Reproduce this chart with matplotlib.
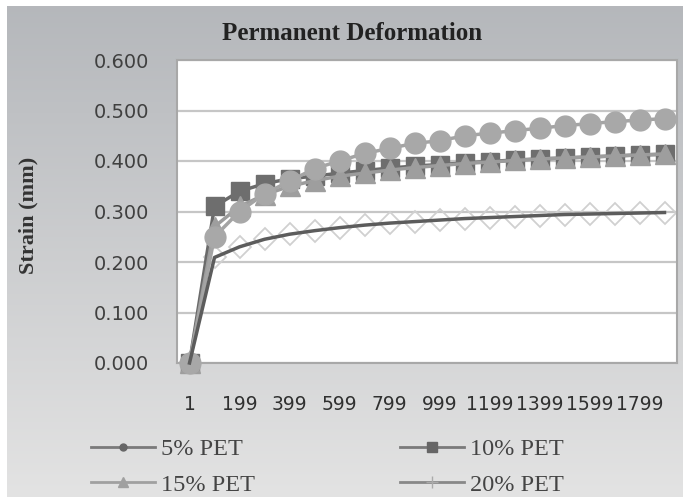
import matplotlib
matplotlib.use("Agg")
import matplotlib.pyplot as plt
from matplotlib.lines import Line2D
import numpy as np

# cycles (category axis)
cycles = [1, 99, 199, 299, 399, 499, 599, 699, 799, 899, 999,
          1099, 1199, 1299, 1399, 1499, 1599, 1699, 1799, 1899]

pet5 = [0.000, 0.250, 0.300, 0.335, 0.360, 0.385, 0.400, 0.415, 0.425, 0.435,
        0.440, 0.450, 0.455, 0.460, 0.465, 0.470, 0.474, 0.478, 0.481, 0.484]
pet10 = [0.000, 0.310, 0.340, 0.355, 0.365, 0.370, 0.376, 0.381, 0.386, 0.390,
         0.393, 0.396, 0.399, 0.402, 0.404, 0.406, 0.408, 0.410, 0.412, 0.413]
pet15 = [0.000, 0.270, 0.310, 0.333, 0.350, 0.361, 0.370, 0.376, 0.382, 0.387,
         0.391, 0.395, 0.398, 0.401, 0.404, 0.406, 0.408, 0.410, 0.412, 0.414]
pet20 = [0.000, 0.209, 0.230, 0.245, 0.255, 0.262, 0.268, 0.273, 0.277, 0.280,
         0.283, 0.286, 0.288, 0.290, 0.292, 0.294, 0.295, 0.296, 0.297, 0.298]

labels = ['5% PET', '10% PET', '15% PET', '20% PET']

W, H = 683, 497
fig = plt.figure(figsize=(W / 100, H / 100), dpi=100)
fig.patch.set_facecolor('white')

# grey gradient chart background
bg = fig.add_axes([7 / W, 0, 1 - 7 / W, 1 - 6 / H])
grad = np.linspace(0, 1, 256).reshape(-1, 1)
top = np.array([0.71, 0.72, 0.735])
bot = np.array([0.89, 0.89, 0.89])
img = top + (bot - top) * grad[..., None]
bg.imshow(img, aspect='auto', extent=[0, 1, 0, 1])
bg.axis('off')

ax = fig.add_axes([177 / W, 1 - 363 / H, 500 / W, 303 / H])
ax.set_facecolor('white')
x = np.arange(len(cycles))

ax.plot(x, pet20, ls='none', marker='D', ms=11, mfc='none', mec='#d0d0d0',
        mew=1.3, zorder=2, clip_on=False)
ax.plot(x, pet10, color='#6a6a6a', lw=2.5, marker='s', ms=13,
        mfc='#6e6e6e', mec='#6e6e6e', zorder=3, clip_on=False)
ax.plot(x, pet15, color='#9c9c9c', lw=2.5, marker='^', ms=15,
        mfc='#9e9e9e', mec='#9e9e9e', zorder=4, clip_on=False)
ax.plot(x, pet5, color='#a4a4a4', lw=2.5, marker='o', ms=15,
        mfc='#a8a8a8', mec='#a8a8a8', zorder=5, clip_on=False)
ax.plot(x, pet20, color='#5c5c5c', lw=2.5, zorder=6, clip_on=False)

ax.set_xlim(-0.5, len(cycles) - 0.5)
ax.set_ylim(0, 0.6)
ax.set_yticks(np.arange(0, 0.61, 0.1))
ax.set_yticklabels(['%.3f' % v for v in np.arange(0, 0.61, 0.1)])
ax.set_xticks(x[::2])
ax.set_xticklabels([str(c) for c in cycles[::2]])
ax.tick_params(axis='y', length=0, pad=20, labelsize=14, labelcolor='#404040')
ax.tick_params(axis='x', length=0, pad=23, labelsize=13.5, labelcolor='#303030')
ax.grid(axis='y', color='#c6c6c6', lw=1.6)
ax.set_axisbelow(True)
for s in ax.spines.values():
    s.set_color('#a8a8a8')
    s.set_linewidth(1.5)

fig.text(0.515, 1 - 33 / H, 'Permanent Deformation', ha='center', va='center',
         family='Liberation Serif', fontweight='bold', fontsize=18, color='#222222')
fig.text(28 / W, 1 - 215 / H, 'Strain (mm)', ha='center', va='center', rotation=90,
         family='Liberation Serif', fontweight='bold', fontsize=16, color='#333333')

h5 = Line2D([], [], color='#7a7a7a', lw=2, marker='o', ms=5, mfc='#666666', mec='#666666')
h10 = Line2D([], [], color='#7a7a7a', lw=2, marker='s', ms=7, mfc='#666666', mec='#666666')
h15 = Line2D([], [], color='#a0a0a0', lw=2, marker='^', ms=7, mfc='#a0a0a0', mec='#a0a0a0')
h20 = Line2D([], [], color='#888888', lw=2, marker='+', ms=8, mec='#aaaaaa')
# legend fills by column, so order gives rows 5%/10% and 15%/20%
fig.legend([h5, h15, h10, h20], [labels[0], labels[2], labels[1], labels[3]],
           loc='center', ncol=2, frameon=False,
           bbox_to_anchor=(327.5 / W, 1 - 467 / H),
           prop={'family': 'Liberation Serif', 'size': 17.5},
           handlelength=2.6, handletextpad=0.25, columnspacing=6.0,
           labelspacing=0.55, labelcolor='#444444')

fig.savefig('out.png', dpi=100)
